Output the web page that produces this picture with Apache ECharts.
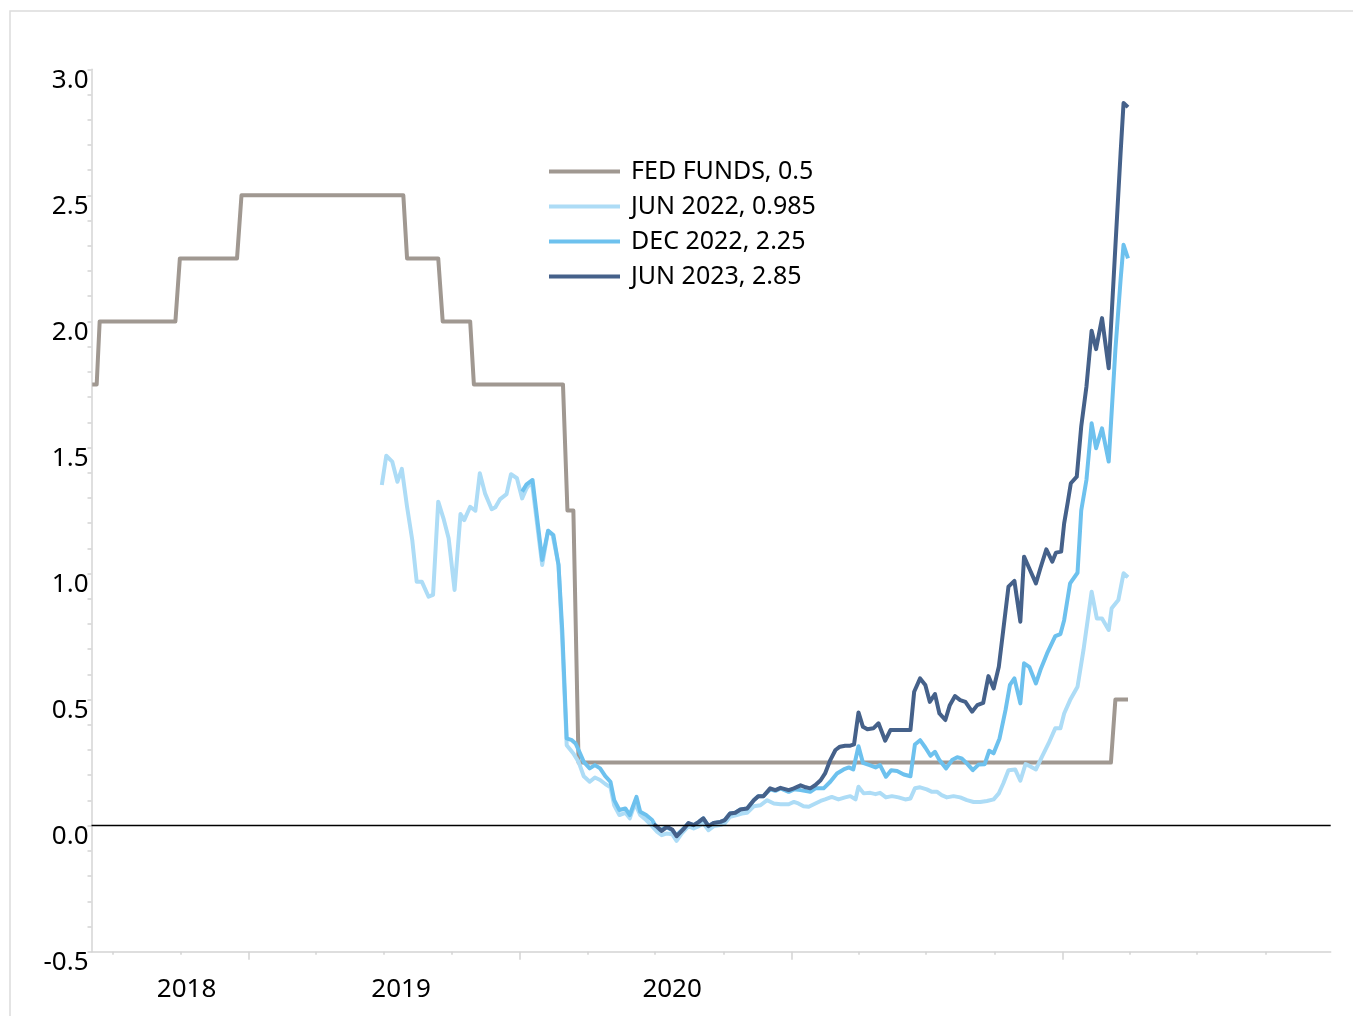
<!DOCTYPE html>
<html><head><meta charset="utf-8">
<script src="https://cdn.jsdelivr.net/npm/echarts@6.0.0/dist/echarts.min.js"></script>
<style>html,body{margin:0;padding:0;background:#fff}#c{width:1353px;height:1016px}</style>
</head><body><div id="c"></div><script>
// ---- axis definitions ----
const xMinDate = '2018-06-03';
const xMaxDate = '2022-12-28';
const quarterTicks = ['2018-07-01','2018-10-01','2019-04-01','2019-07-01','2019-10-01','2020-04-01','2020-07-01','2020-10-01','2021-04-01','2021-07-01','2021-10-01','2022-04-01','2022-07-01','2022-10-01'];
const yearTicks = ['2019-01-01','2020-01-01','2021-01-01','2022-01-01'];
const xLabelDates = ['2018-10-09','2019-07-25','2020-07-24'];
const xLabelTexts = ['2018','2019','2020'];
const yMin = -0.5, yMax = 3.0, yStep = 0.5;

// ---- series names ----
const seriesNames = ['FED FUNDS, 0.5','JUN 2022, 0.985','DEC 2022, 2.25','JUN 2023, 2.85'];

// ---- FED FUNDS ----
const fedDates = ['2018-06-04','2018-06-10','2018-06-14','2018-09-24','2018-09-30','2018-12-16','2018-12-22','2019-07-28','2019-08-02','2019-09-13','2019-09-19','2019-10-26','2019-10-31','2020-02-28','2020-03-05','2020-03-13','2020-03-20','2022-03-07','2022-03-13','2022-03-30'];
const fedValues = [1.75,1.75,2.0,2.0,2.25,2.25,2.5,2.5,2.25,2.25,2.0,2.0,1.75,1.75,1.25,1.25,0.25,0.25,0.5,0.5];

// ---- JUN 2022 ----
const jun22Dates = ['2019-06-29','2019-07-05','2019-07-13','2019-07-20','2019-07-26','2019-08-02','2019-08-09','2019-08-15','2019-08-22','2019-08-31','2019-09-06','2019-09-13','2019-09-20','2019-09-27','2019-10-05','2019-10-13','2019-10-18','2019-10-26','2019-11-02','2019-11-08','2019-11-15','2019-11-24','2019-11-29','2019-12-05','2019-12-14','2019-12-20','2019-12-28','2020-01-04','2020-01-10','2020-01-17','2020-01-31','2020-02-08','2020-02-14','2020-02-22','2020-02-27','2020-03-04','2020-03-13','2020-03-20','2020-03-27','2020-04-04','2020-04-11','2020-04-18','2020-04-25','2020-05-02','2020-05-07','2020-05-14','2020-05-22','2020-05-28','2020-06-04','2020-06-11','2020-06-19','2020-06-27','2020-07-04','2020-07-10','2020-07-17','2020-07-24','2020-07-30','2020-08-06','2020-08-15','2020-08-22','2020-08-29','2020-09-04','2020-09-11','2020-09-18','2020-09-27','2020-10-03','2020-10-10','2020-10-19','2020-10-26','2020-11-02','2020-11-11','2020-11-20','2020-11-29','2020-12-08','2020-12-17','2020-12-28','2021-01-04','2021-01-10','2021-01-17','2021-01-24','2021-02-02','2021-02-09','2021-02-15','2021-02-24','2021-03-05','2021-03-14','2021-03-21','2021-03-28','2021-04-01','2021-04-08','2021-04-17','2021-04-24','2021-04-30','2021-05-08','2021-05-16','2021-05-25','2021-06-03','2021-06-10','2021-06-16','2021-06-23','2021-07-02','2021-07-09','2021-07-16','2021-07-22','2021-07-29','2021-08-07','2021-08-16','2021-08-25','2021-09-03','2021-09-12','2021-09-21','2021-09-30','2021-10-07','2021-10-13','2021-10-20','2021-10-29','2021-11-05','2021-11-12','2021-11-18','2021-11-26','2021-12-04','2021-12-13','2021-12-22','2021-12-29','2022-01-03','2022-01-11','2022-01-21','2022-01-29','2022-02-09','2022-02-16','2022-02-23','2022-03-04','2022-03-08','2022-03-17','2022-03-24','2022-03-30'];
const jun22Values = [1.351,1.467,1.444,1.364,1.415,1.265,1.133,0.967,0.967,0.908,0.915,1.285,1.219,1.140,0.935,1.236,1.212,1.265,1.249,1.398,1.318,1.255,1.263,1.294,1.315,1.394,1.378,1.298,1.338,1.367,1.034,1.170,1.153,1.034,0.736,0.319,0.286,0.253,0.196,0.174,0.191,0.181,0.165,0.152,0.081,0.042,0.051,0.029,0.088,0.042,0.022,-0.002,-0.025,-0.038,-0.031,-0.034,-0.060,-0.031,-0.002,-0.011,-0.002,0.009,-0.018,-0.002,0.002,0.009,0.035,0.042,0.048,0.051,0.077,0.081,0.101,0.088,0.085,0.085,0.094,0.088,0.077,0.075,0.088,0.098,0.104,0.114,0.104,0.112,0.117,0.104,0.154,0.128,0.130,0.125,0.130,0.112,0.117,0.112,0.104,0.108,0.148,0.152,0.144,0.134,0.134,0.121,0.112,0.117,0.112,0.101,0.094,0.094,0.098,0.104,0.128,0.167,0.220,0.223,0.178,0.244,0.236,0.223,0.273,0.326,0.386,0.386,0.445,0.498,0.551,0.696,0.928,0.822,0.822,0.776,0.862,0.895,1.001,0.985];

// ---- DEC 2022 ----
const dec22Dates = ['2020-01-04','2020-01-10','2020-01-18','2020-01-31','2020-02-08','2020-02-15','2020-02-22','2020-02-27','2020-03-04','2020-03-11','2020-03-16','2020-03-22','2020-03-27','2020-04-04','2020-04-11','2020-04-18','2020-04-25','2020-05-02','2020-05-07','2020-05-14','2020-05-22','2020-05-28','2020-06-06','2020-06-11','2020-06-19','2020-06-27','2020-07-01','2020-07-08','2020-07-16','2020-07-24','2020-07-30','2020-08-06','2020-08-15','2020-08-22','2020-08-29','2020-09-04','2020-09-11','2020-09-18','2020-09-27','2020-10-03','2020-10-10','2020-10-17','2020-10-24','2020-11-02','2020-11-11','2020-11-17','2020-11-24','2020-12-03','2020-12-10','2020-12-17','2020-12-28','2021-01-04','2021-01-13','2021-01-26','2021-02-02','2021-02-13','2021-02-22','2021-03-03','2021-03-12','2021-03-19','2021-03-25','2021-04-01','2021-04-07','2021-04-16','2021-04-24','2021-04-30','2021-05-08','2021-05-15','2021-05-23','2021-06-01','2021-06-10','2021-06-16','2021-06-23','2021-06-30','2021-07-07','2021-07-13','2021-07-19','2021-07-28','2021-08-05','2021-08-12','2021-08-18','2021-08-25','2021-09-02','2021-09-10','2021-09-18','2021-09-24','2021-09-30','2021-10-08','2021-10-16','2021-10-22','2021-10-28','2021-11-05','2021-11-10','2021-11-17','2021-11-26','2021-12-02','2021-12-11','2021-12-22','2021-12-29','2022-01-03','2022-01-11','2022-01-21','2022-01-26','2022-02-02','2022-02-09','2022-02-15','2022-02-23','2022-03-04','2022-03-13','2022-03-20','2022-03-24','2022-03-30'];
const dec22Values = [1.325,1.354,1.371,1.054,1.170,1.153,1.034,0.776,0.346,0.339,0.326,0.287,0.253,0.227,0.240,0.227,0.196,0.174,0.101,0.062,0.068,0.042,0.114,0.055,0.042,0.022,0.002,-0.018,-0.005,-0.018,-0.038,-0.018,0.009,0.002,0.015,0.029,-0.002,0.011,0.015,0.022,0.048,0.051,0.064,0.068,0.101,0.117,0.117,0.144,0.138,0.148,0.134,0.144,0.141,0.134,0.148,0.148,0.174,0.207,0.223,0.231,0.223,0.315,0.249,0.240,0.231,0.240,0.194,0.220,0.217,0.203,0.196,0.322,0.339,0.310,0.277,0.293,0.260,0.227,0.260,0.271,0.267,0.247,0.220,0.243,0.244,0.297,0.287,0.346,0.458,0.558,0.584,0.485,0.644,0.630,0.564,0.617,0.683,0.752,0.760,0.815,0.961,1.003,1.250,1.371,1.596,1.497,1.576,1.444,1.887,2.165,2.304,2.25];

// ---- JUN 2023 ----
const jun23Dates = ['2020-06-29','2020-07-04','2020-07-10','2020-07-17','2020-07-24','2020-07-30','2020-08-08','2020-08-15','2020-08-22','2020-08-29','2020-09-04','2020-09-11','2020-09-18','2020-09-27','2020-10-03','2020-10-10','2020-10-17','2020-10-24','2020-11-02','2020-11-11','2020-11-17','2020-11-24','2020-12-03','2020-12-10','2020-12-17','2020-12-28','2021-01-04','2021-01-13','2021-01-20','2021-01-26','2021-02-02','2021-02-09','2021-02-15','2021-02-22','2021-03-01','2021-03-07','2021-03-14','2021-03-21','2021-03-26','2021-04-01','2021-04-07','2021-04-13','2021-04-21','2021-04-28','2021-05-07','2021-05-14','2021-05-24','2021-06-03','2021-06-10','2021-06-15','2021-06-23','2021-06-30','2021-07-06','2021-07-13','2021-07-19','2021-07-27','2021-08-02','2021-08-09','2021-08-16','2021-08-23','2021-09-01','2021-09-08','2021-09-16','2021-09-23','2021-09-30','2021-10-07','2021-10-13','2021-10-20','2021-10-28','2021-11-05','2021-11-10','2021-11-18','2021-11-26','2021-12-02','2021-12-10','2021-12-18','2021-12-23','2021-12-30','2022-01-03','2022-01-08','2022-01-12','2022-01-20','2022-01-26','2022-02-02','2022-02-09','2022-02-15','2022-02-23','2022-03-04','2022-03-13','2022-03-20','2022-03-24','2022-03-30'];
const jun23Values = [0.005,-0.005,-0.021,-0.005,-0.015,-0.042,-0.015,0.010,0.002,0.015,0.029,-0.002,0.011,0.015,0.022,0.048,0.051,0.064,0.068,0.101,0.117,0.117,0.148,0.141,0.150,0.141,0.148,0.160,0.152,0.148,0.161,0.180,0.207,0.260,0.300,0.313,0.317,0.317,0.322,0.449,0.392,0.382,0.386,0.406,0.337,0.379,0.379,0.379,0.379,0.531,0.584,0.558,0.491,0.522,0.445,0.419,0.478,0.514,0.498,0.491,0.452,0.478,0.487,0.593,0.544,0.630,0.776,0.948,0.971,0.809,1.067,1.014,0.961,1.021,1.096,1.047,1.083,1.087,1.199,1.285,1.358,1.384,1.583,1.741,1.963,1.890,2.013,1.814,2.297,2.667,2.866,2.85];

// ---- styles ----
const colors = ['#A09891','#ADDCF6','#6DC1EE','#45618A'];
const FONT = 'Noto Sans';

const ts = s => Date.parse(s);
const pairs = (d, v) => d.map((x, i) => [ts(x), v[i]]);
const labelTs = xLabelDates.map(ts);

const chart = echarts.init(document.getElementById('c'), null, {renderer: 'canvas'});
const mkSeries = (name, data, color, extra) => Object.assign({
  name, type: 'line', data, symbol: 'none', showSymbol: false,
  lineStyle: {color, width: 4, join: 'round'}, itemStyle: {color},
  emphasis: {disabled: true}, animation: false
}, extra || {});

chart.setOption({
  animation: false,
  backgroundColor: '#fff',
  textStyle: {fontFamily: FONT},
  graphic: [{
    type: 'rect', silent: true, z: -10,
    shape: {x: 10, y: 11, width: 1400, height: 1100},
    style: {fill: 'none', stroke: '#DCDCDC', lineWidth: 1.5}
  }],
  grid: {left: 91.5, right: 22.3, top: 69.3, bottom: 64.3, containLabel: false},
  legend: {
    orient: 'vertical', left: 549, top: 159, padding: 0,
    icon: 'rect', itemWidth: 71, itemHeight: 4, itemGap: 10,
    data: seriesNames,
    textStyle: {fontSize: 25, lineHeight: 25, color: '#000', fontFamily: FONT, padding: [0, 0, 0, 6]}
  },
  xAxis: [{
    type: 'value', min: ts(xMinDate), max: ts(xMaxDate), position: 'bottom',
    axisLine: {show: true, onZero: false, lineStyle: {color: '#D4D4D4', width: 1.5}},
    axisTick: {show: true, customValues: quarterTicks.map(ts), length: 3, lineStyle: {color: '#D4D4D4', width: 1.5}},
    axisLabel: {
      customValues: labelTs, fontSize: 26, lineHeight: 26, color: '#000', fontFamily: FONT, margin: 25,
      formatter: v => { const i = labelTs.findIndex(t => Math.abs(t - v) < 43200000); return i >= 0 ? xLabelTexts[i] : ''; }
    },
    splitLine: {show: false}
  }, {
    type: 'value', min: ts(xMinDate), max: ts(xMaxDate), position: 'bottom', offset: 0,
    axisLine: {show: false, onZero: false},
    axisTick: {show: true, customValues: yearTicks.map(ts), length: 8, lineStyle: {color: '#D4D4D4', width: 1.5}},
    axisLabel: {show: false},
    splitLine: {show: false}
  }],
  yAxis: {
    type: 'value', min: yMin, max: yMax, interval: yStep,
    axisLine: {show: true, lineStyle: {color: '#D4D4D4', width: 1.5}},
    axisTick: {show: true, length: 4, lineStyle: {color: '#D4D4D4', width: 1.5}},
    minorTick: {show: true, splitNumber: 5, length: 4, lineStyle: {color: '#D4D4D4', width: 1.5}},
    splitLine: {show: false},
    axisLabel: {
      fontSize: 26, lineHeight: 22, verticalAlign: 'top', color: '#000', fontFamily: FONT, margin: 3,
      formatter: v => v.toFixed(1)
    }
  },
  series: [
    mkSeries(seriesNames[0], pairs(fedDates, fedValues), colors[0], {
      markLine: {
        silent: true, symbol: 'none', animation: false,
        label: {show: false},
        lineStyle: {color: '#000', width: 1.3, type: 'solid'},
        emphasis: {disabled: true},
        data: [{yAxis: 0}]
      }
    }),
    mkSeries(seriesNames[1], pairs(jun22Dates, jun22Values), colors[1]),
    mkSeries(seriesNames[2], pairs(dec22Dates, dec22Values), colors[2]),
    mkSeries(seriesNames[3], pairs(jun23Dates, jun23Values), colors[3])
  ]
});
</script></body></html>
